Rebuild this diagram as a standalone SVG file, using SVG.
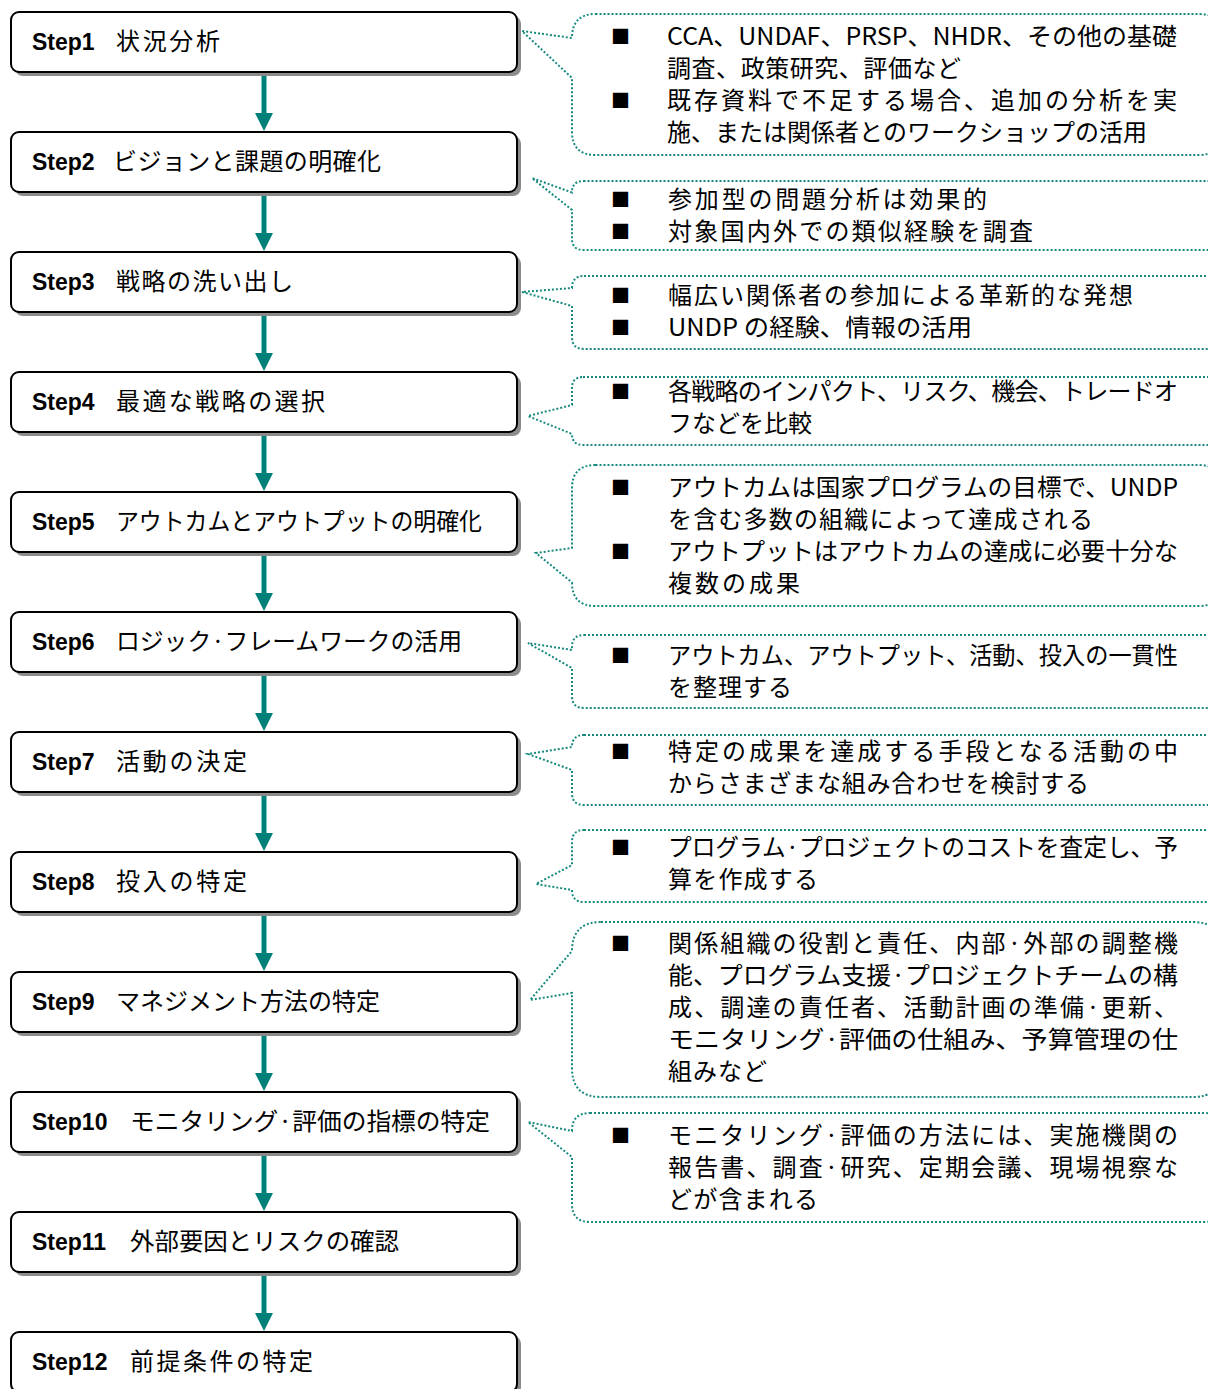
<svg xmlns="http://www.w3.org/2000/svg" width="1208" height="1389" viewBox="0 0 1208 1389">
<style>
.box{fill:#fff;stroke:#000;stroke-width:2}
.sh{fill:#8c8c8c}
.st{font-family:"Liberation Sans","Noto Sans CJK JP",sans-serif;font-weight:bold;font-size:23px;fill:#000}
.jp{font-family:"Noto Sans CJK JP",sans-serif;font-size:24px;fill:#000}
.ct{font-family:"Noto Sans CJK JP",sans-serif;font-size:24px;fill:#000}
.bl{font-family:"Noto Sans CJK JP",sans-serif;font-size:19px;fill:#000}
.co{fill:#fff;stroke:#17897f;stroke-width:2;stroke-dasharray:2 2}
.ar{stroke:#00807a;stroke-width:5;fill:none}
.ah{fill:#00807a}
</style>
<defs>
<g id="sbox"><rect class="sh" x="4" y="4" width="506" height="60" rx="8"/><rect class="box" x="0" y="0" width="506" height="60" rx="8"/></g>
</defs>

<g id="connectors">
<g><line class="ar" x1="264" y1="72" x2="264" y2="114"/><polygon class="ah" points="255,113 273,113 264,131"/></g>
<g><line class="ar" x1="264" y1="192" x2="264" y2="234"/><polygon class="ah" points="255,233 273,233 264,251"/></g>
<g><line class="ar" x1="264" y1="312" x2="264" y2="354"/><polygon class="ah" points="255,353 273,353 264,371"/></g>
<g><line class="ar" x1="264" y1="432" x2="264" y2="474"/><polygon class="ah" points="255,473 273,473 264,491"/></g>
<g><line class="ar" x1="264" y1="552" x2="264" y2="594"/><polygon class="ah" points="255,593 273,593 264,611"/></g>
<g><line class="ar" x1="264" y1="672" x2="264" y2="714"/><polygon class="ah" points="255,713 273,713 264,731"/></g>
<g><line class="ar" x1="264" y1="792" x2="264" y2="834"/><polygon class="ah" points="255,833 273,833 264,851"/></g>
<g><line class="ar" x1="264" y1="912" x2="264" y2="954"/><polygon class="ah" points="255,953 273,953 264,971"/></g>
<g><line class="ar" x1="264" y1="1032" x2="264" y2="1074"/><polygon class="ah" points="255,1073 273,1073 264,1091"/></g>
<g><line class="ar" x1="264" y1="1152" x2="264" y2="1194"/><polygon class="ah" points="255,1193 273,1193 264,1211"/></g>
<g><line class="ar" x1="264" y1="1272" x2="264" y2="1314"/><polygon class="ah" points="255,1313 273,1313 264,1331"/></g>
</g>

<g id="step1"><use href="#sbox" x="11" y="12"/><text class="st" x="32" y="50">Step1</text><text class="jp" x="116" y="50" textLength="104" lengthAdjust="spacing">状況分析</text></g>
<g id="step2"><use href="#sbox" x="11" y="132"/><text class="st" x="32" y="170">Step2</text><text class="jp" x="113" y="170" textLength="268" lengthAdjust="spacing">ビジョンと課題の明確化</text></g>
<g id="step3"><use href="#sbox" x="11" y="252"/><text class="st" x="32" y="290">Step3</text><text class="jp" x="116" y="290" textLength="177" lengthAdjust="spacing">戦略の洗い出し</text></g>
<g id="step4"><use href="#sbox" x="11" y="372"/><text class="st" x="32" y="410">Step4</text><text class="jp" x="116" y="410" textLength="209" lengthAdjust="spacing">最適な戦略の選択</text></g>
<g id="step5"><use href="#sbox" x="11" y="492"/><text class="st" x="32" y="530">Step5</text><text class="jp" x="116" y="530" textLength="366" lengthAdjust="spacingAndGlyphs">アウトカムとアウトプットの明確化</text></g>
<g id="step6"><use href="#sbox" x="11" y="612"/><text class="st" x="32" y="650">Step6</text><text class="jp" x="116" y="650" textLength="346" lengthAdjust="spacingAndGlyphs">ロジック·フレームワークの活用</text></g>
<g id="step7"><use href="#sbox" x="11" y="732"/><text class="st" x="32" y="770">Step7</text><text class="jp" x="116" y="770" textLength="131" lengthAdjust="spacing">活動の決定</text></g>
<g id="step8"><use href="#sbox" x="11" y="852"/><text class="st" x="32" y="890">Step8</text><text class="jp" x="116" y="890" textLength="131" lengthAdjust="spacing">投入の特定</text></g>
<g id="step9"><use href="#sbox" x="11" y="972"/><text class="st" x="32" y="1010">Step9</text><text class="jp" x="116" y="1010" textLength="264" lengthAdjust="spacingAndGlyphs">マネジメント方法の特定</text></g>
<g id="step10"><use href="#sbox" x="11" y="1092"/><text class="st" x="32" y="1130">Step10</text><text class="jp" x="130" y="1130" textLength="360" lengthAdjust="spacingAndGlyphs">モニタリング·評価の指標の特定</text></g>
<g id="step11"><use href="#sbox" x="11" y="1212"/><text class="st" x="32" y="1250">Step11</text><text class="jp" x="130" y="1250" textLength="269" lengthAdjust="spacingAndGlyphs">外部要因とリスクの確認</text></g>
<g id="step12"><use href="#sbox" x="11" y="1332"/><text class="st" x="32" y="1370">Step12</text><text class="jp" x="130" y="1370" textLength="183" lengthAdjust="spacing">前提条件の特定</text></g>

<g id="note1">
<path class="co" d="M595.5,14 H1198.5 Q1222,14 1222,37.5 V131.5 Q1222,155 1198.5,155 H595.5 Q572,155 572,131.5 V78 L522,31 L572,38 Q572,14 595.5,14 Z"/>
<text class="bl" x="611" y="44">■</text><text class="bl" x="611" y="108">■</text>
<text class="ct" x="667" y="45" textLength="510" lengthAdjust="spacingAndGlyphs">CCA、UNDAF、PRSP、NHDR、その他の基礎</text>
<text class="ct" x="667" y="77" textLength="294" lengthAdjust="spacing">調査、政策研究、評価など</text>
<text class="ct" x="667" y="109" textLength="510" lengthAdjust="spacing">既存資料で不足する場合、追加の分析を実</text>
<text class="ct" x="667" y="141" textLength="480" lengthAdjust="spacing">施、または関係者とのワークショップの活用</text>
</g>
<g id="note2">
<path class="co" d="M583.5,181 H1210.5 Q1222,181 1222,192.5 V238.5 Q1222,250 1210.5,250 H583.5 Q572,250 572,238.5 V210 L532,178 L572,192.5 Q572,181 583.5,181 Z"/>
<text class="bl" x="611" y="207">■</text><text class="bl" x="611" y="239">■</text>
<text class="ct" x="668" y="208" textLength="319" lengthAdjust="spacing">参加型の問題分析は効果的</text>
<text class="ct" x="668" y="240" textLength="365" lengthAdjust="spacing">対象国内外での類似経験を調査</text>
</g>
<g id="note3">
<path class="co" d="M584,276 H1210 Q1222,276 1222,288 V337 Q1222,349 1210,349 H584 Q572,349 572,337 V306 L522,292 L572,288 Q572,276 584,276 Z"/>
<text class="bl" x="611" y="303">■</text><text class="bl" x="611" y="335">■</text>
<text class="ct" x="668" y="304" textLength="465" lengthAdjust="spacing">幅広い関係者の参加による革新的な発想</text>
<text class="ct" x="668" y="336" textLength="304" lengthAdjust="spacingAndGlyphs">UNDP の経験、情報の活用</text>
</g>
<g id="note4">
<path class="co" d="M583,377 H1211 Q1222,377 1222,388 V434 Q1222,445 1211,445 H583 Q572,445 572,434 L528,416 L572,405 V388 Q572,377 583,377 Z"/>
<text class="bl" x="611" y="399">■</text>
<text class="ct" x="668" y="400" textLength="510" lengthAdjust="spacing">各戦略のインパクト、リスク、機会、トレードオ</text>
<text class="ct" x="668" y="432" textLength="144" lengthAdjust="spacing">フなどを比較</text>
</g>
<g id="note5">
<path class="co" d="M595.5,465 H1198.5 Q1222,465 1222,488.5 V582.5 Q1222,606 1198.5,606 H595.5 Q572,606 572,582.5 L536,553 L572,548 V488.5 Q572,465 595.5,465 Z"/>
<text class="bl" x="611" y="495">■</text><text class="bl" x="611" y="559">■</text>
<text class="ct" x="668" y="496" textLength="510" lengthAdjust="spacingAndGlyphs">アウトカムは国家プログラムの目標で、UNDP</text>
<text class="ct" x="668" y="528" textLength="425" lengthAdjust="spacing">を含む多数の組織によって達成される</text>
<text class="ct" x="668" y="560" textLength="510" lengthAdjust="spacingAndGlyphs">アウトプットはアウトカムの達成に必要十分な</text>
<text class="ct" x="668" y="592" textLength="132" lengthAdjust="spacing">複数の成果</text>
</g>
<g id="note6">
<path class="co" d="M584,635 H1210 Q1222,635 1222,647 V696 Q1222,708 1210,708 H584 Q572,708 572,696 V668 L528,643 L572,650 V647 Q572,635 584,635 Z"/>
<text class="bl" x="611" y="663">■</text>
<text class="ct" x="668" y="664" textLength="510" lengthAdjust="spacingAndGlyphs">アウトカム、アウトプット、活動、投入の一貫性</text>
<text class="ct" x="668" y="696" textLength="124" lengthAdjust="spacing">を整理する</text>
</g>
<g id="note7">
<path class="co" d="M584,735 H1210 Q1222,735 1222,747 V793 Q1222,805 1210,805 H584 Q572,805 572,793 V770 L528,754 L572,747 Q572,735 584,735 Z"/>
<text class="bl" x="611" y="759">■</text>
<text class="ct" x="668" y="760" textLength="510" lengthAdjust="spacing">特定の成果を達成する手段となる活動の中</text>
<text class="ct" x="668" y="792" textLength="421" lengthAdjust="spacing">からさまざまな組み合わせを検討する</text>
</g>
<g id="note8">
<path class="co" d="M584,830 H1210 Q1222,830 1222,842 V890 Q1222,902 1210,902 H584 Q572,902 572,890 L536,884 L572,865 V842 Q572,830 584,830 Z"/>
<text class="bl" x="611" y="855">■</text>
<text class="ct" x="668" y="856" textLength="510" lengthAdjust="spacingAndGlyphs">プログラム·プロジェクトのコストを査定し、予</text>
<text class="ct" x="668" y="888" textLength="150" lengthAdjust="spacing">算を作成する</text>
</g>
<g id="note9">
<path class="co" d="M601,922 H1193 Q1222,922 1222,951 V1068 Q1222,1097 1193,1097 H601 Q572,1097 572,1068 V993 L530,1000 L572,951 Q572,922 601,922 Z"/>
<text class="bl" x="611" y="951">■</text>
<text class="ct" x="668" y="952" textLength="510" lengthAdjust="spacing">関係組織の役割と責任、内部·外部の調整機</text>
<text class="ct" x="668" y="984" textLength="510" lengthAdjust="spacingAndGlyphs">能、プログラム支援·プロジェクトチームの構</text>
<text class="ct" x="668" y="1016" textLength="510" lengthAdjust="spacing">成、調達の責任者、活動計画の準備·更新、</text>
<text class="ct" x="668" y="1048" textLength="510" lengthAdjust="spacingAndGlyphs">モニタリング·評価の仕組み、予算管理の仕</text>
<text class="ct" x="668" y="1080" textLength="99" lengthAdjust="spacing">組みなど</text>
</g>
<g id="note10">
<path class="co" d="M590,1113 H1204 Q1222,1113 1222,1131 V1204 Q1222,1222 1204,1222 H590 Q572,1222 572,1204 V1157 L528,1122 L572,1131 Q572,1113 590,1113 Z"/>
<text class="bl" x="611" y="1143">■</text>
<text class="ct" x="668" y="1144" textLength="510" lengthAdjust="spacing">モニタリング·評価の方法には、実施機関の</text>
<text class="ct" x="668" y="1176" textLength="510" lengthAdjust="spacing">報告書、調査·研究、定期会議、現場視察な</text>
<text class="ct" x="668" y="1208" textLength="150" lengthAdjust="spacing">どが含まれる</text>
</g>
</svg>
